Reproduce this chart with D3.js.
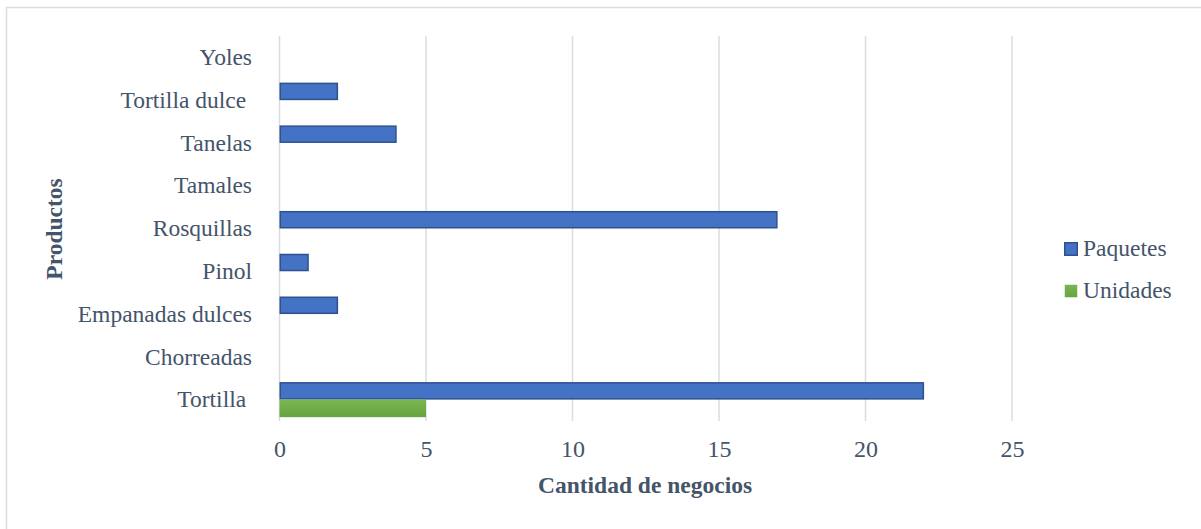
<!DOCTYPE html>
<html><head><meta charset="utf-8">
<script src="https://cdn.jsdelivr.net/npm/d3@7"></script>
<style>
html,body{margin:0;padding:0;background:#fff;}
svg{display:block;font-family:"Liberation Serif","Times New Roman",serif;}
</style></head>
<body>
<svg id="chart" width="1201" height="529"></svg>
<script>
// Data (bottom-to-top as in the source table)
const categories = ["Tortilla ", "Chorreadas", "Empanadas dulces", "Pinol", "Rosquillas", "Tamales", "Tanelas", "Tortilla dulce ", "Yoles"];
const paquetes = [22, 0, 2, 1, 17, 0, 4, 2, 0];
const unidades = [5, 0, 0, 0, 0, 0, 0, 0, 0];
const seriesNames = ["Paquetes", "Unidades"];
const xTicks = [0, 5, 10, 15, 20, 25];
const xTitle = "Cantidad de negocios";
const yTitle = "Productos";

const colors = {Paquetes: "#4472C4", Unidades: "#70AD47"};
const strokes = {Paquetes: "#2F528F", Unidades: "none"};
const textColor = "#44546A";

const svg = d3.select("#chart");
const defs = svg.append("defs");
const grad = defs.append("linearGradient").attr("id","gGreen").attr("x1",0).attr("y1",0).attr("x2",0).attr("y2",1);
grad.append("stop").attr("offset","0%").attr("stop-color","#7AB650");
grad.append("stop").attr("offset","100%").attr("stop-color","#67A33F");

// outer border (only top/left visible)
svg.append("rect").attr("x",6.5).attr("y",7.5).attr("width",1210).attr("height",540)
  .attr("fill","none").attr("stroke","#D9DCE3").attr("stroke-width",1.5);

const plot = {left: 279.5, right: 1012, top: 36, bottom: 421};

const x = d3.scaleLinear().domain([0, 25]).range([plot.left, plot.right]);
const y = d3.scaleBand().domain(categories.slice().reverse()).range([plot.top, plot.bottom])
  .paddingInner(0.18).paddingOuter(0.09);
const y1 = d3.scaleBand().domain(seriesNames).range([0, y.bandwidth()]);

// gridlines
svg.append("g").selectAll("line").data(xTicks).join("line")
  .attr("x1", d => x(d)).attr("x2", d => x(d))
  .attr("y1", plot.top).attr("y2", plot.bottom)
  .attr("stroke", "#D9DCE3").attr("stroke-width", 1.5);

// bars
const rows = categories.map((c, i) => ({cat: c, Paquetes: paquetes[i], Unidades: unidades[i]}));
const g = svg.append("g");
seriesNames.forEach(s => {
  g.selectAll("rect." + s).data(rows.filter(r => r[s] > 0)).join("rect")
    .attr("class", s)
    .attr("x", x(0) + (s === "Paquetes" ? 0.75 : 0))
    .attr("y", d => y(d.cat) + y1(s) + (s === "Paquetes" ? 0.75 : 0))
    .attr("width", d => x(d[s]) - x(0) - (s === "Paquetes" ? 1.5 : 0))
    .attr("height", y1.bandwidth() - (s === "Paquetes" ? 1.5 : 0))
    .attr("fill", s === "Unidades" ? "url(#gGreen)" : colors[s])
    .attr("stroke", strokes[s])
    .attr("stroke-width", 1.5);
});

// x axis tick labels
const xAxis = d3.axisBottom(x).tickValues(xTicks).tickSize(0).tickPadding(0);
const xg = svg.append("g").attr("transform", `translate(0,${plot.bottom})`).call(xAxis);
xg.select(".domain").remove();
xg.selectAll("text").attr("font-family", "Liberation Serif").attr("font-size", 24)
  .attr("fill", textColor).attr("y", 36).attr("dy", 0);

// y axis category labels
const yAxis = d3.axisLeft(y).tickSize(0).tickPadding(0);
const yg = svg.append("g").attr("transform", `translate(252,0)`).call(yAxis);
yg.select(".domain").remove();
yg.selectAll("text").attr("font-family", "Liberation Serif").attr("font-size", 23.5)
  .attr("fill", textColor).attr("dy", "0.33em").attr("x", 0)
  .style("white-space", "pre");

// axis titles
svg.append("text").attr("x", 645).attr("y", 493).attr("text-anchor", "middle")
  .attr("font-size", 23.5).attr("font-weight", "bold").attr("fill", textColor).text(xTitle);
svg.append("text").attr("transform", `translate(62,229) rotate(-90)`).attr("text-anchor", "middle")
  .attr("font-size", 23.5).attr("font-weight", "bold").attr("fill", textColor).text(yTitle);

// legend
const lg = svg.append("g");
seriesNames.forEach((s, i) => {
  const yy = 242 + i * 42;
  lg.append("rect").attr("x", 1064.75).attr("y", yy + 0.75).attr("width", 12.5).attr("height", 12.5)
    .attr("fill", s === "Unidades" ? "url(#gGreen)" : colors[s])
    .attr("stroke", strokes[s]).attr("stroke-width", 1.5);
  lg.append("text").attr("x", 1083).attr("y", yy + 14).attr("font-size", 23.5)
    .attr("fill", textColor).text(s);
});
</script>
</body></html>
